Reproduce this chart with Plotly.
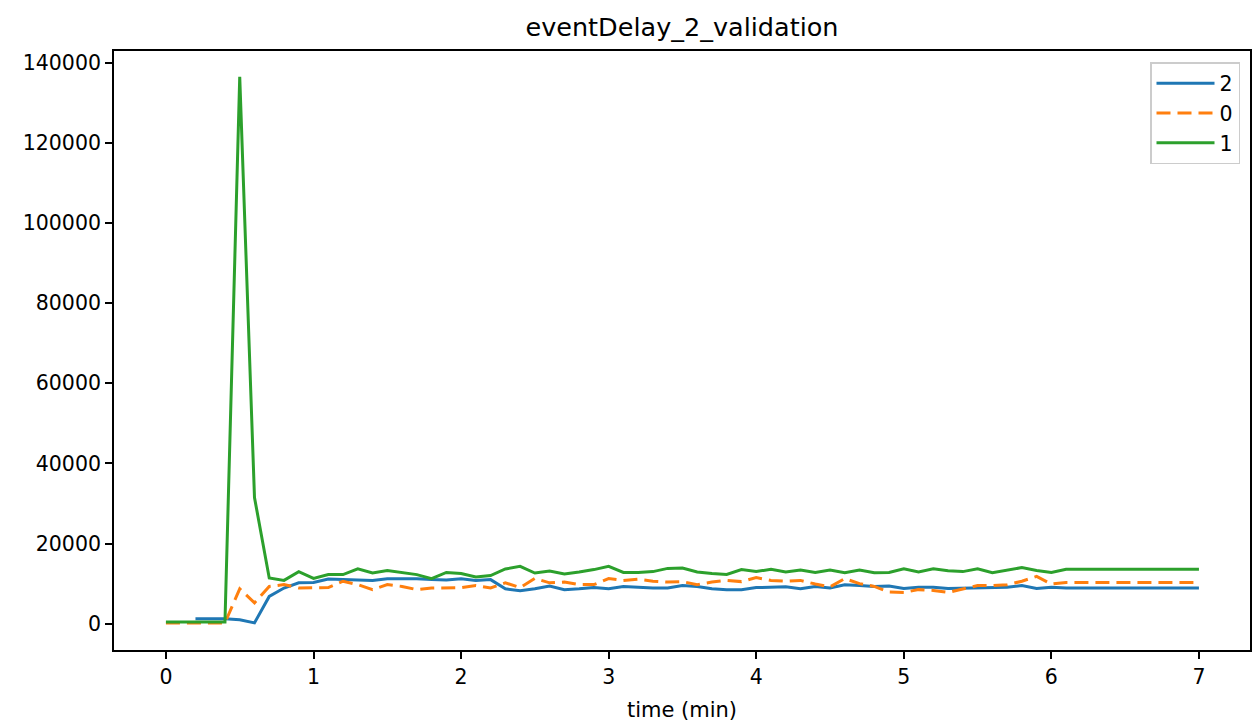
import plotly.graph_objects as go

time_min = [round(i * 0.1, 1) for i in range(71)]

series_2 = [None, None, 1200, 1200, 1200, 1000, 200, 6800, 8900, 10200,
            10300, 11150, 11000, 10800, 10750, 11200, 11200, 11200, 11000, 10900,
            11200, 10800, 11000, 8700, 8200, 8700, 9400, 8500, 8700, 9000,
            8700, 9300, 9100, 8900, 8900, 9500, 9300, 8700, 8500, 8500,
            9000, 9100, 9200, 8700, 9300, 8900, 9700, 9500, 9300, 9400,
            8800, 9100, 9100, 8800, 8900, 8900, 9100, 9100, 9500, 8800,
            9100, 8900, 8900, 8900, 8900, 8900, 8900, 8900, 8900, 8900, 8900]

series_0 = [200, 200, 200, 200, 200, 8700, 5200, 9300, 9750, 8900,
            8900, 9000, 10600, 9750, 8500, 9750, 9300, 8500, 8900, 9000,
            9000, 9500, 8900, 10200, 9000, 11300, 10200, 10400, 9750, 9750,
            11250, 10800, 11100, 10600, 10400, 10500, 9750, 10400, 10800, 10500,
            11500, 10800, 10600, 10800, 9900, 9200, 11250, 10000, 9300, 7900,
            7800, 8500, 8300, 7800, 8600, 9500, 9500, 9700, 10600, 11800,
            9900, 10300, 10300, 10300, 10300, 10300, 10300, 10300, 10300, 10300, 10300]

series_1 = [400, 400, 400, 400, 400, 136500, 31500, 11400, 10800, 13000,
            11300, 12250, 12250, 13700, 12650, 13250, 12800, 12250, 11250, 12800,
            12500, 11650, 12000, 13650, 14300, 12650, 13150, 12400, 12900, 13500,
            14300, 12800, 12800, 13000, 13800, 13900, 12900, 12500, 12300, 13500,
            13000, 13600, 12900, 13400, 12800, 13400, 12700, 13400, 12700, 12800,
            13700, 12900, 13700, 13200, 13000, 13700, 12700, 13300, 14000, 13300,
            12800, 13600, 13600, 13600, 13600, 13600, 13600, 13600, 13600, 13600, 13600]

x_ticks = [0, 1, 2, 3, 4, 5, 6, 7]
y_ticks = [0, 20000, 40000, 60000, 80000, 100000, 120000, 140000]

FONT = "DejaVu Sans"

fig = go.Figure()
fig.add_trace(go.Scatter(x=time_min, y=series_2, mode="lines", name="2",
                         line=dict(color="#1f77b4", width=3)))
fig.add_trace(go.Scatter(x=time_min, y=series_0, mode="lines", name="0",
                         line=dict(color="#ff7f0e", width=3, dash="14px,7px")))
fig.add_trace(go.Scatter(x=time_min, y=series_1, mode="lines", name="1",
                         line=dict(color="#2ca02c", width=3)))

fig.update_layout(
    width=1253, height=722,
    margin=dict(l=114, r=3, t=51, b=72, autoexpand=False),
    paper_bgcolor="white", plot_bgcolor="white",
    font=dict(family=FONT, size=20.5, color="black"),
    title=dict(text="eventDelay_2_validation", x=682 / 1253, xanchor="center",
               y=1 - 27 / 722, yanchor="middle",
               font=dict(family=FONT, size=25.5, color="black")),
    showlegend=True,
    legend=dict(x=0.9912, y=0.9816, xanchor="right", yanchor="top",
                bordercolor="#cccccc", borderwidth=1.5, bgcolor="white",
                font=dict(family=FONT, size=20.5, color="black"),
                tracegroupgap=0, itemwidth=58),
)

fig.update_xaxes(
    range=[-0.352, 7.346], tickvals=x_ticks, ticktext=[str(v) for v in x_ticks],
    showgrid=False, zeroline=False, automargin=False,
    showline=True, linecolor="black", linewidth=1.8, mirror=True,
    ticks="outside", ticklen=7, tickwidth=1.8, tickcolor="black",
    tickfont=dict(family=FONT, size=20.5, color="black"),
    title=dict(text="time (min)", font=dict(family=FONT, size=21, color="black"), standoff=15),
)
fig.update_yaxes(
    range=[-6570, 142950], tickvals=y_ticks, ticktext=[str(v) for v in y_ticks],
    showgrid=False, zeroline=False, automargin=False,
    showline=True, linecolor="black", linewidth=1.8, mirror=True,
    ticks="outside", ticklen=7, tickwidth=1.8, tickcolor="black",
    tickfont=dict(family=FONT, size=20.5, color="black"),
)

fig.write_html(
    "out.html",
    config={"displayModeBar": False},
    post_script="document.body.style.margin='0';document.body.style.overflow='hidden';",
)
